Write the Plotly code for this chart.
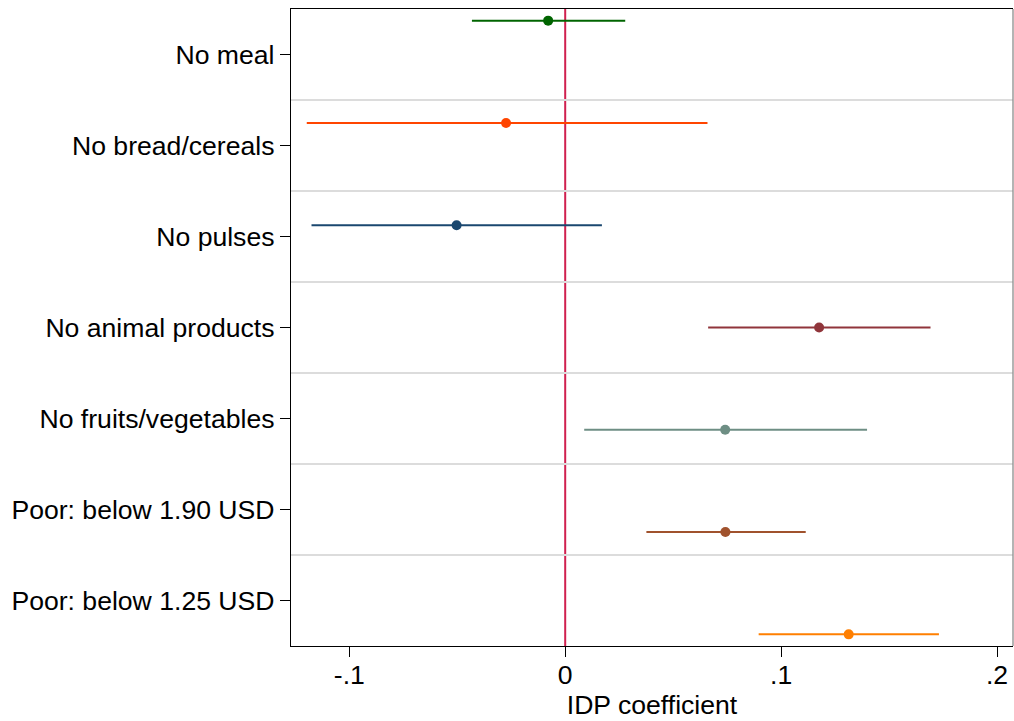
import plotly.graph_objects as go

categories = ["No meal", "No bread/cereals", "No pulses", "No animal products",
              "No fruits/vegetables", "Poor: below 1.90 USD", "Poor: below 1.25 USD"]
coef = [-0.0079, -0.0274, -0.0503, 0.1176, 0.0741, 0.0742, 0.1313]
ci_low = [-0.0432, -0.1197, -0.1175, 0.0662, 0.0088, 0.0376, 0.0896]
ci_high = [0.0278, 0.0659, 0.0170, 0.1692, 0.1398, 0.1114, 0.1731]
colors = ["#006400", "#FF4500", "#1A476F", "#90353B", "#6E8E84", "#A0522D", "#FF7F00"]
xtick_vals = [-0.1, 0, 0.1, 0.2]
xtick_text = ["-.1", "0", ".1", ".2"]

FONT = "Liberation Sans, Arial, sans-serif"
FS = 26.6
STEP = 0.124
n = len(categories)

fig = go.Figure()
for i, cat in enumerate(categories):
    ypos = (i + 1) + (i - (n - 1) / 2) * STEP
    fig.add_trace(go.Scatter(
        x=[coef[i]], y=[ypos], mode="markers", name=cat,
        marker=dict(color=colors[i], size=10),
        error_x=dict(type="data", symmetric=False,
                     array=[ci_high[i] - coef[i]],
                     arrayminus=[coef[i] - ci_low[i]],
                     color=colors[i], thickness=2, width=0),
        showlegend=False,
    ))

fig.add_vline(x=0, line=dict(color="#D0204F", width=2), layer="below")
# right border
fig.add_shape(type="line", xref="paper", yref="paper", x0=1, x1=1, y0=0, y1=1,
              line=dict(color="#8C8C8C", width=1.3))

fig.update_layout(
    width=1014, height=721,
    margin=dict(l=291, r=1, t=9, b=75),
    plot_bgcolor="white", paper_bgcolor="white",
    font=dict(family=FONT, size=FS, color="black"),
    xaxis=dict(range=[-0.127, 0.2074], tickvals=xtick_vals, ticktext=xtick_text,
               ticks="outside", ticklen=10, tickwidth=1.3, tickcolor="black",
               showline=True, linecolor="black", linewidth=1.3, mirror=True,
               showgrid=False, zeroline=False, automargin=False,
               ticklabelstandoff=-5,
               title=dict(text="IDP coefficient", standoff=5,
                          font=dict(family=FONT, size=FS, color="black")),
               tickfont=dict(size=FS)),
    yaxis=dict(range=[n + 0.5, 0.5], tickvals=list(range(1, n + 1)), ticktext=categories,
               ticks="outside", ticklen=10, tickwidth=1.3, tickcolor="black",
               showline=True, linecolor="black", linewidth=1.3,
               showgrid=False, zeroline=False, automargin=False,
               minor=dict(tickvals=[k + 0.5 for k in range(1, n)], showgrid=True,
                          gridcolor="#DCDCDC", gridwidth=2, ticks=""),
               tickfont=dict(size=FS)),
)

fig.write_html("out.html", config={"displayModeBar": False},
               post_script="document.body.style.margin='0';document.body.style.overflow='hidden';")
